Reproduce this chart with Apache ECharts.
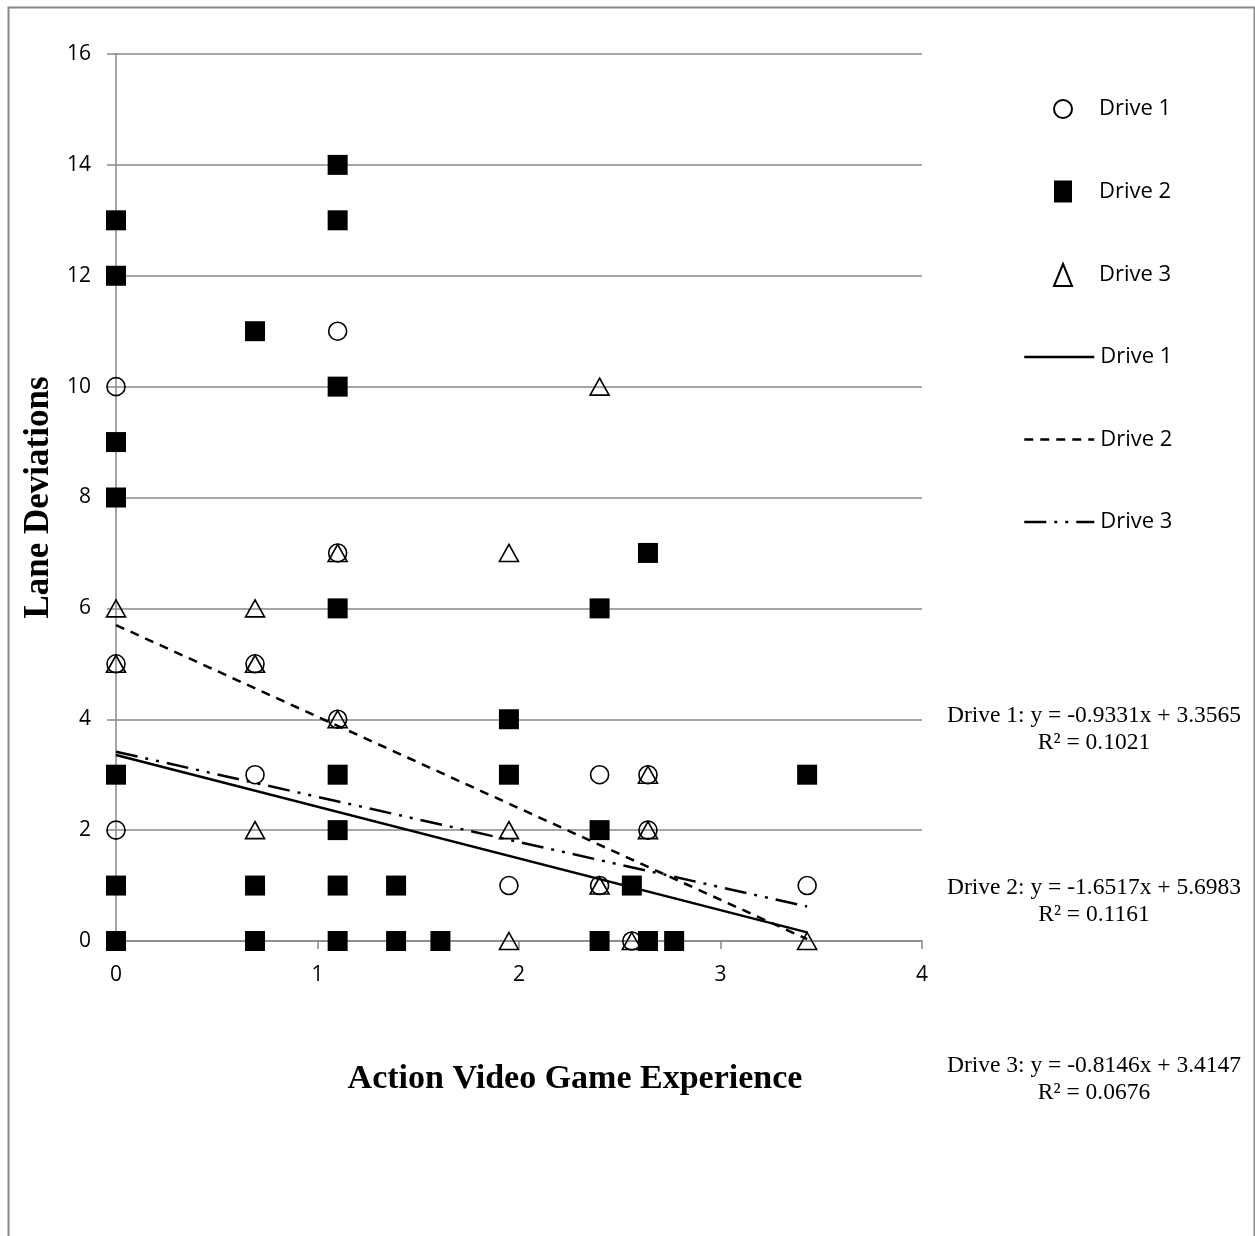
<!DOCTYPE html>
<html>
<head>
<meta charset="utf-8">
<script src="https://cdn.jsdelivr.net/npm/echarts@6/dist/echarts.min.js"></script>
<style>
html,body{margin:0;padding:0;background:#fff;}
#chart{width:1255px;height:1236px;}
</style>
</head>
<body>
<div id="chart"></div>
<script>
// ---- data ----
const drive1Points = [[0,10],[0,5],[0,2],[0.69,5],[0.69,3],[1.10,11],[1.10,7],[1.10,4],[1.95,1],[2.40,3],[2.40,1],[2.56,0],[2.64,3],[2.64,2],[3.43,1]];
const drive2Points = [[0,13],[0,12],[0,9],[0,8],[0,3],[0,1],[0,0],[0.69,11],[0.69,1],[0.69,0],[1.10,14],[1.10,13],[1.10,10],[1.10,6],[1.10,3],[1.10,2],[1.10,1],[1.10,0],[1.39,1],[1.39,0],[1.61,0],[1.95,4],[1.95,3],[2.40,6],[2.40,2],[2.40,0],[2.56,1],[2.64,7],[2.64,0],[2.77,0],[3.43,3]];
const drive3Points = [[0,6],[0,5],[0.69,6],[0.69,5],[0.69,2],[1.10,7],[1.10,4],[1.95,7],[1.95,2],[1.95,0],[2.40,10],[2.40,1],[2.56,0],[2.64,3],[2.64,2],[3.43,0]];
const seriesNames = ['Drive 1','Drive 2','Drive 3'];
const trendSlopes = [-0.9331, -1.6517, -0.8146];
const trendIntercepts = [3.3565, 5.6983, 3.4147];
const trendR2 = ['0.1021','0.1161','0.0676'];
const xTicks = [0,1,2,3,4];
const yTicks = [0,2,4,6,8,10,12,14,16];

const allPts = [drive1Points, drive2Points, drive3Points];
function trendLine(i){
  const xs = allPts[i].map(p=>p[0]);
  const x0 = Math.min(...xs), x1 = Math.max(...xs);
  return [[x0, trendIntercepts[i] + trendSlopes[i]*x0],[x1, trendIntercepts[i] + trendSlopes[i]*x1]];
}
function eqText(i){
  const s = trendSlopes[i].toFixed(4);
  const b = trendIntercepts[i].toFixed(4);
  return seriesNames[i] + ': y = ' + s + 'x + ' + b + '\nR² = ' + trendR2[i];
}

const chart = echarts.init(document.getElementById('chart'), null, {renderer:'canvas'});
const gray = '#888888';
const sans = 'Open Sans';
const serif = 'Liberation Serif';
const trans = 'rgba(0,0,0,0)';
const dashTypes = ['solid', [9,7], [22,8,3,8,3,8]];

const scatterStyles = [
  {symbol:'circle', symbolSize:18, itemStyle:{color:trans, borderColor:'#000', borderWidth:1.6, opacity:1}},
  {symbol:'rect', symbolSize:20, itemStyle:{color:'#000', borderColor:'#000', borderWidth:0, opacity:1}},
  {symbol:'triangle', symbolSize:[19,17], itemStyle:{color:trans, borderColor:'#000', borderWidth:1.6, opacity:1}}
];

const series = [];
for (let i=0;i<3;i++){
  series.push(Object.assign({
    name: seriesNames[i], type:'scatter', data: allPts[i], z:3, emphasis:{disabled:true}
  }, scatterStyles[i]));
}
for (let i=0;i<3;i++){
  series.push({
    name: seriesNames[i] + ' ', type:'line', data: trendLine(i), symbol:'none', z:4,
    itemStyle:{color:'#000'},
    lineStyle:{color:'#000', width:2.5, type: dashTypes[i]}, emphasis:{disabled:true}
  });
}

const option = {
  backgroundColor:'#fff',
  animation:false,
  grid:{left:116, right:333, top:54, bottom:295, containLabel:false},
  xAxis:{
    type:'value', min:0, max:4, interval:1,
    name:'Action Video Game Experience', nameLocation:'middle', nameGap:121,
    nameTextStyle:{fontFamily:serif, fontWeight:'bold', fontSize:34, color:'#000', padding:[0,0,0,112]},
    axisLine:{lineStyle:{color:gray, width:1.5}},
    axisTick:{show:true, length:8, inside:false, lineStyle:{color:gray, width:1.5}},
    axisLabel:{margin:24, fontFamily:sans, fontSize:21, color:'#000'},
    splitLine:{show:false}
  },
  yAxis:{
    type:'value', min:0, max:16, interval:2,
    name:'Lane Deviations', nameLocation:'middle', nameGap:60, nameRotate:90,
    nameTextStyle:{fontFamily:serif, fontWeight:'bold', fontSize:35, color:'#000'},
    axisLine:{show:true, lineStyle:{color:gray, width:1.5}},
    axisTick:{show:true, length:9, inside:false, lineStyle:{color:gray, width:1.5}},
    axisLabel:{margin:25, fontFamily:sans, fontSize:21, color:'#000'},
    splitLine:{show:true, lineStyle:{color:gray, width:1.5}}
  },
  legend:[
    {
      orient:'vertical', left:1048, top:93, itemWidth:18, itemHeight:22, itemGap:60.5,
      data: seriesNames, selectedMode:false,
      textStyle:{fontFamily:sans, fontSize:22, color:'#000', lineHeight:22, padding:[0,0,0,22]}
    },
    {
      orient:'vertical', left:1018, top:341, itemWidth:70, itemHeight:22, itemGap:60.5,
      data: seriesNames.map(n=>n+' '), selectedMode:false,
      itemStyle:{opacity:0},
      lineStyle:{width:2.5, color:'#000'},
      textStyle:{fontFamily:sans, fontSize:22, color:'#000', lineHeight:22, padding:[0,0,0,1]}
    }
  ],
  graphic:[
    {type:'rect', left:6, top:5, shape:{x:0,y:0,width:1246,height:1300}, style:{fill:null, stroke:gray, lineWidth:2}, silent:true, z:-1},
    {type:'text', x:1094, y:702, style:{text:eqText(0), fontFamily:serif, fontSize:23.5, fill:'#000', textAlign:'center', lineHeight:27}},
    {type:'text', x:1094, y:874, style:{text:eqText(1), fontFamily:serif, fontSize:23.5, fill:'#000', textAlign:'center', lineHeight:27}},
    {type:'text', x:1094, y:1052, style:{text:eqText(2), fontFamily:serif, fontSize:23.5, fill:'#000', textAlign:'center', lineHeight:27}}
  ],
  series: series
};
chart.setOption(option);
</script>
</body>
</html>
